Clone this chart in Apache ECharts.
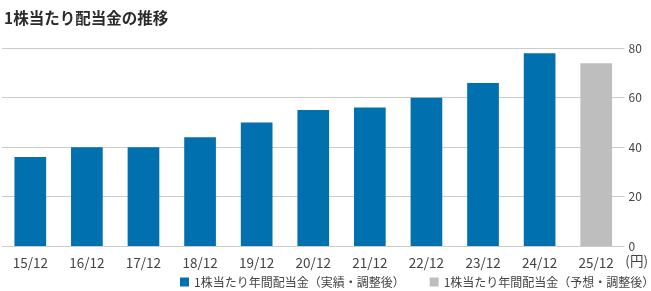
<!DOCTYPE html>
<html>
<head>
<meta charset="utf-8">
<script src="https://cdn.jsdelivr.net/npm/echarts@6/dist/echarts.min.js"></script>
<style>
html,body{margin:0;padding:0;background:#fff;}
#chart{width:651px;height:291px;}
</style>
</head>
<body>
<div id="chart"></div>
<script>
const categories = ['15/12','16/12','17/12','18/12','19/12','20/12','21/12','22/12','23/12','24/12','25/12'];
const actualValues = [36, 40, 40, 44, 50, 55, 56, 60, 66, 78, null];
const forecastValues = [null, null, null, null, null, null, null, null, null, null, 74];
const yTicks = [0, 20, 40, 60, 80];
const seriesNames = ['1株当たり年間配当金（実績・調整後）', '1株当たり年間配当金（予想・調整後）'];
const titleText = '1株当たり配当金の推移';
const unitText = '(円)';

const FONT = '"Noto Sans CJK JP", "Noto Sans", sans-serif';
const chart = echarts.init(document.getElementById('chart'));
chart.setOption({
  animation: false,
  textStyle: { fontFamily: FONT },
  title: {
    text: titleText,
    left: -1,
    top: 5,
    textStyle: { fontSize: 15.5, fontWeight: 'bold', color: '#2b2b2b', fontFamily: FONT }
  },
  grid: { left: 2, right: 26.5, top: 48.3, bottom: 45, containLabel: false },
  legend: {
    orient: 'horizontal',
    bottom: 3,
    left: 180,
    width: 480,
    padding: 0,
    itemWidth: 9,
    itemHeight: 9,
    itemGap: 25,
    icon: 'rect',
    textStyle: { fontSize: 12, color: '#444', fontFamily: FONT },
    data: seriesNames
  },
  xAxis: {
    type: 'category',
    data: categories,
    axisLine: { show: false },
    axisTick: { show: false },
    axisLabel: { color: '#444', fontSize: 13.5, margin: 10, fontFamily: FONT }
  },
  yAxis: {
    type: 'value',
    position: 'right',
    min: yTicks[0],
    max: yTicks[yTicks.length - 1],
    interval: 20,
    axisLine: { show: false },
    axisTick: { show: false },
    splitLine: { lineStyle: { color: '#cccccc', width: 1 } },
    axisLabel: { color: '#444', fontSize: 12, margin: 4, fontFamily: FONT }
  },
  graphic: [{
    type: 'text',
    right: 3,
    top: 254,
    style: { text: unitText, fontSize: 13.5, fill: '#444', fontFamily: FONT }
  }],
  series: [
    {
      name: seriesNames[0],
      type: 'bar',
      stack: 'a',
      data: actualValues,
      barWidth: '56%',
      itemStyle: { color: '#0071ae' }
    },
    {
      name: seriesNames[1],
      type: 'bar',
      stack: 'a',
      data: forecastValues,
      barWidth: '56%',
      itemStyle: { color: '#bebebe' }
    }
  ]
});
</script>
</body>
</html>
